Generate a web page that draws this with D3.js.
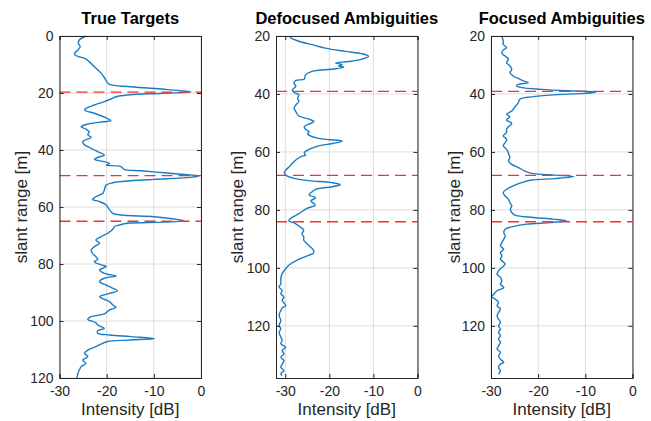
<!DOCTYPE html>
<html><head><meta charset="utf-8">
<script src="https://cdn.jsdelivr.net/npm/d3@7"></script>
<style>body{margin:0;background:#fff}svg{display:block}</style>
</head><body>
<svg id="c" width="651" height="421"></svg>
<script>
// ---------- data ----------
const panelTitles = ["True Targets", "Defocused Ambiguities", "Focused Ambiguities"];
const xTicks = [-30, -20, -10, 0];
const yTicksTrue = [0, 20, 40, 60, 80, 100, 120];
const yTicksAmb = [20, 40, 60, 80, 100, 120];
const targetRanges = [19.7, 49.0, 65.0];
const ambiguityRanges = [39.1, 68.1, 84.1];

const trueRange = [0,1.4,2.6,3.7,4.9,6.1,6.7,7.3,7.8,9.0,10.8,12.5,14.3,16.0,17.0,17.8,18.7,19.3,19.6,20.1,20.7,21.3,22.1,23.0,24.2,25.4,26.0,27.1,28.5,29.7,30.1,30.9,31.8,32.7,33.6,34.7,35.6,37.1,38.2,39.4,40.6,41.8,42.6,43.3,44.1,44.7,45.3,45.8,46.8,47.3,48.0,48.7,49.1,49.7,50.3,50.8,51.5,52.3,54.0,55.2,56.4,57.3,58.1,59.3,60.5,61.0,62.2,62.8,63.4,64.2,64.8,65.3,65.7,66.3,66.9,67.8,69.2,70.4,71.6,72.7,73.9,75.1,76.3,77.4,78.4,79.2,80.3,80.9,82.1,83.3,84.2,85.0,86.2,87.4,88.2,89.4,90.3,91.5,92.4,93.2,94.4,95.2,96.1,97.5,98.5,99.4,100.6,101.4,102.6,103.4,104.3,104.9,105.5,106.2,106.7,107.2,108.1,109.0,110.2,111.3,112.5,113.7,114.9,116.0,117.2,118.4,120];
const trueDb = [-24.4,-25.8,-26.0,-25.6,-26.1,-26.8,-26.7,-25.8,-24.7,-23.7,-22.6,-21.5,-20.6,-20.0,-19.4,-14.9,-7.8,-3.6,-2.2,-7.8,-15.6,-18.0,-19.1,-20.5,-22.6,-24.4,-24.7,-22.6,-20.5,-19.1,-20.8,-24.0,-25.4,-24.4,-23.7,-24.0,-23.3,-25.1,-24.7,-23.3,-21.9,-20.5,-21.9,-22.6,-20.5,-19.4,-20.1,-17.0,-16.3,-12.7,-7.8,-2.9,-0.4,-2.9,-9.9,-14.9,-18.7,-20.1,-20.5,-20.8,-22.3,-23.0,-21.5,-20.1,-19.6,-19.4,-18.7,-17.0,-9.9,-5.7,-3.6,-7.8,-15.6,-17.3,-18.4,-18.7,-19.8,-21.2,-22.3,-21.5,-22.6,-23.3,-23.0,-22.3,-21.9,-22.6,-21.2,-20.1,-21.5,-20.5,-18.0,-20.5,-21.5,-20.1,-19.1,-17.7,-19.4,-21.5,-20.5,-19.4,-18.7,-18.0,-19.4,-20.5,-23.3,-24.0,-22.3,-21.9,-20.5,-21.9,-21.9,-19.4,-14.9,-9.9,-15.6,-19.8,-21.2,-22.3,-24.0,-24.7,-24.0,-25.1,-24.4,-25.4,-25.8,-26.1,-26.3];

const defRange = [20,20.7,21.8,23.0,24.2,25.3,26.1,27.0,28.0,28.8,29.3,29.8,30.3,30.7,31.4,32.2,33.4,34.9,35.3,36.3,37.4,38.6,39.5,40.3,41.5,42.6,43.8,44.9,46.1,47.6,48.7,49.5,50.4,51.3,52.2,53.0,53.8,54.7,55.6,56.2,57.0,57.9,59.1,60.3,61.1,61.6,62.8,63.9,65.1,66.3,67.2,68.0,69.1,69.9,70.6,71.3,72.0,72.9,74.1,74.9,75.8,76.9,77.8,78.4,79.5,81.3,83.0,83.8,84.7,85.9,87.0,88.2,89.3,90.5,91.6,92.8,93.9,94.9,95.7,96.8,98.0,99.1,100.3,102.0,103.7,105.5,106.6,107.8,108.9,110.1,111.2,113.0,113.8,114.7,116.4,118.2,119.9,121.0,122.2,123.9,125.1,126.2,127.4,128.5,129.7,130.8,132.0,133.2,134.3,135.5,136.4,137.2];
const defDb = [-29.0,-28.7,-26.9,-23.9,-20.9,-16.4,-12.6,-11.1,-12.6,-15.6,-18.6,-17.1,-17.9,-16.7,-19.0,-23.9,-25.4,-25.7,-27.6,-28.0,-27.6,-28.4,-28.0,-26.9,-27.2,-26.9,-27.6,-28.0,-27.6,-26.9,-24.6,-23.5,-24.6,-25.7,-25.4,-24.6,-24.9,-23.9,-21.2,-17.1,-19.0,-22.4,-24.6,-25.7,-25.4,-26.5,-27.6,-28.4,-29.1,-29.9,-30.2,-29.9,-28.0,-24.6,-19.4,-17.5,-19.4,-23.1,-24.2,-24.6,-23.1,-24.2,-23.5,-23.2,-25.1,-26.9,-28.8,-29.2,-27.7,-26.6,-25.8,-26.2,-25.8,-25.8,-25.1,-24.3,-23.6,-23.6,-24.7,-26.6,-28.1,-29.2,-29.9,-30.7,-31.0,-31.0,-31.4,-30.7,-31.0,-30.3,-30.7,-29.9,-30.7,-31.0,-31.4,-31.0,-31.4,-31.0,-31.4,-31.0,-30.7,-31.0,-29.9,-30.7,-30.3,-31.0,-30.3,-30.7,-31.0,-30.3,-31.0,-30.7];

const focRange = [20,20.6,21.7,22.9,24.0,24.8,26.0,26.9,28.0,29.2,30.3,31.5,32.6,33.8,34.9,35.5,36.1,36.7,37.2,37.8,38.4,38.9,39.3,39.8,40.3,41.0,41.8,43.0,44.4,45.9,47.0,47.8,49.0,50.1,51.3,52.2,53.3,54.5,55.6,56.8,57.9,59.1,60.5,62.0,63.1,64.3,65.4,66.6,67.4,68.0,68.5,69.2,69.7,70.6,71.7,72.9,74.0,75.2,76.3,77.5,78.6,79.8,80.9,81.8,82.6,83.2,83.8,84.4,84.9,85.7,86.7,87.8,89.0,90.1,91.3,92.4,93.6,94.7,95.9,97.0,98.7,99.9,101.0,102.2,103.3,104.5,105.6,106.8,107.9,109.1,109.9,110.8,111.9,113.1,114.2,115.4,116.5,117.7,118.8,120.0,121.1,122.3,123.4,124.6,125.7,126.9,128.0,129.2,130.3,131.5,132.6,133.2,134.4,135.5,136.7];
const focDb = [-27.7,-27.6,-27.4,-27.4,-26.7,-27.4,-27.7,-27.0,-26.3,-26.7,-26.0,-25.6,-26.0,-25.3,-23.9,-23.2,-22.1,-24.2,-24.6,-23.5,-19.3,-13.7,-7.6,-10.1,-16.5,-21.4,-23.9,-24.2,-24.9,-25.6,-26.7,-26.0,-26.7,-25.6,-26.3,-26.7,-26.7,-27.4,-26.7,-27.0,-27.4,-26.7,-26.3,-26.0,-26.3,-25.6,-24.2,-22.8,-21.4,-16.5,-12.4,-16.5,-21.4,-23.5,-25.3,-26.7,-27.4,-27.0,-26.3,-26.0,-25.6,-25.9,-25.6,-24.9,-21.0,-16.8,-14.0,-17.5,-22.4,-25.2,-27.0,-27.3,-27.0,-27.3,-27.7,-28.0,-27.3,-28.0,-27.7,-28.0,-27.0,-27.7,-28.4,-28.7,-28.0,-27.7,-28.0,-27.3,-28.7,-29.4,-29.9,-29.1,-28.4,-28.7,-28.0,-28.4,-28.7,-28.4,-28.0,-28.4,-28.0,-28.4,-28.0,-28.4,-28.0,-28.4,-28.7,-28.0,-28.4,-28.0,-27.3,-28.0,-28.4,-28.0,-28.4];

// ---------- layout ----------
const plotTop = 36, plotBottom = 378;
const panels = [
  {title: panelTitles[0], left: 59.5, right: 201, xDom: [-30, 0], yDom: [0, 120], yTicks: yTicksTrue, range: trueRange, db: trueDb, refs: targetRanges, ylabX: 21},
  {title: panelTitles[1], left: 276, right: 417.5, xDom: [-32.1, 0], yDom: [20, 138], yTicks: yTicksAmb, range: defRange, db: defDb, refs: ambiguityRanges, ylabX: 237},
  {title: panelTitles[2], left: 491, right: 632.5, xDom: [-30, 0], yDom: [20, 138], yTicks: yTicksAmb, range: focRange, db: focDb, refs: ambiguityRanges, ylabX: 454}
];
const FONT = "'Liberation Sans', Arial, Helvetica, sans-serif";
const axisCol = "#262626";
const svg = d3.select("#c");

panels.forEach(p => {
  const x = d3.scaleLinear().domain(p.xDom).range([p.left, p.right]);
  const y = d3.scaleLinear().domain(p.yDom).range([plotTop, plotBottom]);
  const g = svg.append("g");

  // grid
  g.selectAll(".gx").data(xTicks.filter(t => t >= p.xDom[0] && t <= p.xDom[1])).join("line")
    .attr("x1", d => x(d)).attr("x2", d => x(d)).attr("y1", plotTop).attr("y2", plotBottom)
    .attr("stroke", "#dcdcdc").attr("stroke-width", 1);
  g.selectAll(".gy").data(p.yTicks).join("line")
    .attr("x1", p.left).attr("x2", p.right).attr("y1", d => y(d)).attr("y2", d => y(d))
    .attr("stroke", "#dcdcdc").attr("stroke-width", 1);

  // data line
  const line = d3.line().x(d => x(d[1])).y(d => y(d[0])).curve(d3.curveCatmullRom.alpha(0.5));
  const pts = d3.zip(p.range, p.db);
  g.append("path").datum(pts).attr("d", line)
    .attr("fill", "none").attr("stroke", "#1a7cc4").attr("stroke-width", 1.4).attr("stroke-linejoin", "round");

  // reference lines
  g.selectAll(".ref").data(p.refs).join("line")
    .attr("x1", p.left).attr("x2", p.right).attr("y1", d => y(d)).attr("y2", d => y(d))
    .attr("stroke", "#ff2e2e").attr("stroke-width", 1.4).attr("stroke-dasharray", "11,6");

  // axes (ticks inward, box)
  const ax = d3.axisBottom(x).tickValues(xTicks).tickSize(-4).tickPadding(8).tickFormat(d3.format("d"));
  const gx = g.append("g").attr("transform", `translate(0,${plotBottom})`).call(ax);
  const ay = d3.axisLeft(y).tickValues(p.yTicks).tickSize(-4).tickPadding(6).tickFormat(d3.format("d"));
  const gy = g.append("g").attr("transform", `translate(${p.left},0)`).call(ay);
  const axTop = d3.axisTop(x).tickValues(xTicks).tickSize(-4).tickFormat("");
  const gt = g.append("g").attr("transform", `translate(0,${plotTop})`).call(axTop);
  const ayR = d3.axisRight(y).tickValues(p.yTicks).tickSize(-4).tickFormat("");
  const gr = g.append("g").attr("transform", `translate(${p.right},0)`).call(ayR);
  [gx, gy, gt, gr].forEach(a => {
    a.select(".domain").attr("stroke", axisCol).attr("stroke-width", 1);
    a.selectAll(".tick line").attr("stroke", axisCol);
    a.selectAll("text").attr("fill", axisCol).style("font-family", FONT).style("font-size", "14px");
  });
  gx.selectAll(".tick text").text(d => d < 0 ? "-" + Math.abs(d) : d);

  // title
  g.append("text").attr("x", (p.left + p.right) / 2).attr("y", 24)
    .attr("text-anchor", "middle").style("font-family", FONT).style("font-size", "16.5px").style("font-weight", "bold")
    .attr("fill", "#000").text(p.title);
  // x label
  g.append("text").attr("x", (p.left + p.right) / 2).attr("y", 415)
    .attr("text-anchor", "middle").style("font-family", FONT).style("font-size", "17px")
    .attr("fill", axisCol).text("Intensity [dB]");
  // y label
  g.append("text").attr("transform", `translate(${p.ylabX},${(plotTop + plotBottom) / 2}) rotate(-90)`)
    .attr("text-anchor", "middle").attr("dy", "0.35em").style("font-family", FONT).style("font-size", "17px")
    .attr("fill", axisCol).text("slant range [m]");
});
</script>
</body></html>
